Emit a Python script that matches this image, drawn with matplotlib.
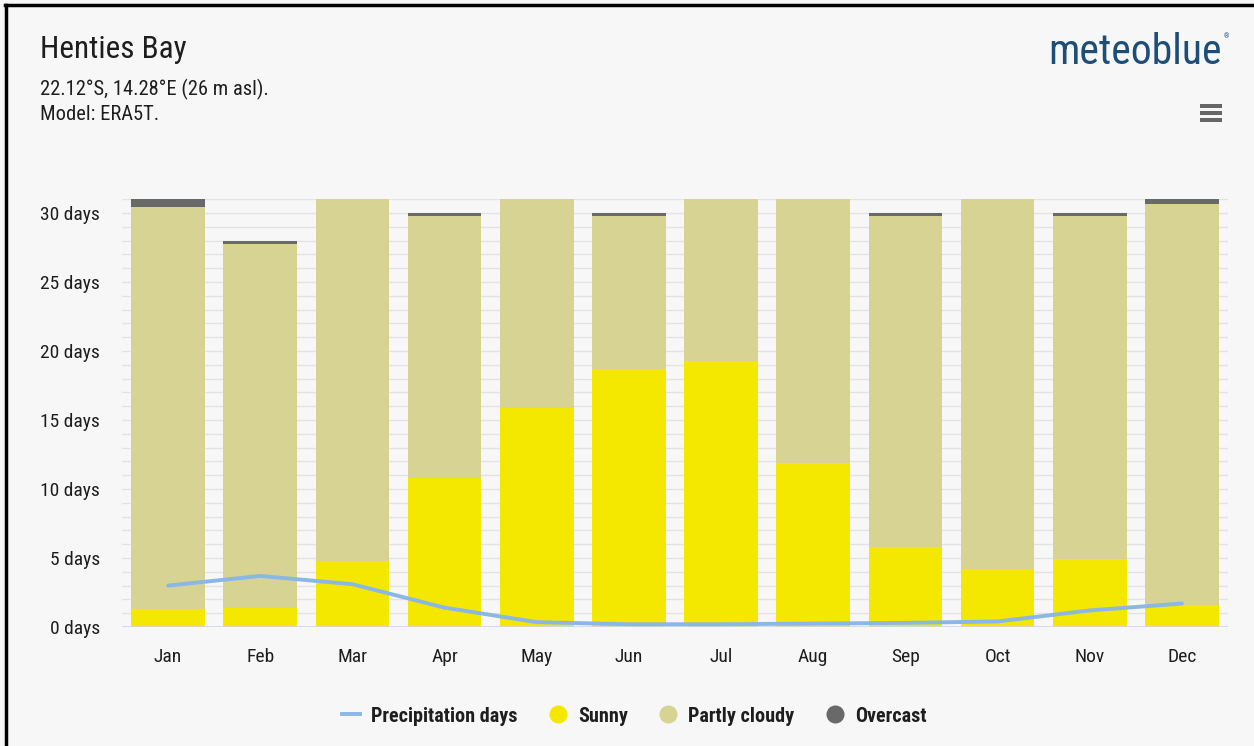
import matplotlib
matplotlib.use("Agg")
import matplotlib.pyplot as plt
from matplotlib.lines import Line2D
from matplotlib.patches import Rectangle
from matplotlib import font_manager

months = ["Jan", "Feb", "Mar", "Apr", "May", "Jun", "Jul", "Aug", "Sep", "Oct", "Nov", "Dec"]
sunny = [1.3, 1.4, 4.8, 10.8, 15.9, 18.7, 19.3, 11.9, 5.8, 4.2, 4.9, 1.6]
partly_cloudy = [29.1, 26.35, 26.2, 18.95, 15.1, 11.05, 11.7, 19.1, 23.95, 26.8, 24.85, 29.05]
overcast = [0.6, 0.25, 0.0, 0.25, 0.0, 0.25, 0.0, 0.0, 0.25, 0.0, 0.25, 0.35]
precip_days = [3.0, 3.7, 3.1, 1.4, 0.35, 0.2, 0.2, 0.25, 0.3, 0.4, 1.2, 1.7]
yticks = [0, 5, 10, 15, 20, 25, 30]
ytick_labels = [f"{v} days" for v in yticks]

# pick a condensed font if one is installed
names = {f.name for f in font_manager.fontManager.ttflist}
FAM = None
STRETCH = "normal"
for cand in ["Roboto Condensed", "Open Sans Condensed", "Liberation Sans Narrow", "Noto Sans Condensed"]:
    if cand in names:
        FAM = cand
        break
if FAM is None:
    cond = [f for f in font_manager.fontManager.ttflist
            if f.name in ("DejaVu Sans", "Noto Sans", "Open Sans", "Roboto")
            and ("ondensed" in f.fname or (isinstance(f.stretch, str) and "condensed" in f.stretch)
                 or (isinstance(f.stretch, int) and f.stretch < 500))]
    if cond:
        FAM = cond[0].name
        STRETCH = "condensed"
if FAM is None:
    FAM = "Open Sans"
plt.rcParams["font.family"] = [FAM, "DejaVu Sans"]
plt.rcParams["font.stretch"] = STRETCH

BG = "#F7F7F7"
C_SUN = "#F4E800"
C_PC = "#D6D393"
C_OV = "#696969"
C_LINE = "#8BB7E6"
TXT = "#1E1E1E"

W, H = 1254, 746
fig = plt.figure(figsize=(W / 100, H / 100), dpi=100, facecolor=BG)

def fx(px):
    return px / W

def fy(py):
    return 1 - py / H

ax_left, ax_right = 122, 1228
ax_bottom, ax_top = 627, 627 - 31 * 13.8
ax = fig.add_axes([fx(ax_left), fy(ax_bottom), fx(ax_right - ax_left), (ax_bottom - ax_top) / H])
ax.set_facecolor(BG)

x = list(range(len(months)))
bw = 0.80
ax.bar(x, sunny, width=bw, color=C_SUN, zorder=2)
ax.bar(x, partly_cloudy, width=bw, bottom=sunny, color=C_PC, zorder=2)
bottom2 = [s + p for s, p in zip(sunny, partly_cloudy)]
ax.bar(x, overcast, width=bw, bottom=bottom2, color=C_OV, zorder=2)
ax.plot(x, precip_days, color=C_LINE, lw=2.8, zorder=4, solid_capstyle="round", solid_joinstyle="round")

ax.set_xlim(-0.5, 11.5)
ax.set_ylim(0, 31)
for d in range(1, 32):
    ax.axhline(d, color="#E3E3E3", lw=1.0, zorder=1)
ax.axhline(0, color="#CCD6EB", lw=1.2, zorder=3)
for s in ax.spines.values():
    s.set_visible(False)
ax.set_yticks(yticks)
ax.set_yticklabels(ytick_labels, fontsize=14, color=TXT)
ax.set_xticks(x)
ax.set_xticklabels(months, fontsize=14, color=TXT)
ax.tick_params(axis="both", length=0)
ax.tick_params(axis="y", pad=16)
ax.tick_params(axis="x", pad=15)

# titles
fig.text(fx(40), fy(50), "Henties Bay", fontsize=22.5, color=TXT, va="center", ha="left")
fig.text(fx(40), fy(89), "22.12°S, 14.28°E (26 m asl).", fontsize=14.8, color=TXT, va="center", ha="left")
fig.text(fx(40), fy(115), "Model: ERA5T.", fontsize=14.8, color=TXT, va="center", ha="left")

# logo
fig.text(fx(1222), fy(52), "meteoblue", fontsize=30, fontweight="normal", color="#1C4E78", va="center", ha="right")
fig.text(fx(1227), fy(37), "®", fontsize=5, color="#1C4E78", va="center", ha="center")
for yy in (106, 113, 120):
    fig.patches.append(Rectangle((fx(1200), fy(yy + 2)), fx(22), 4 / H, transform=fig.transFigure,
                                 facecolor="#666666", edgecolor="none"))

# border lines (top and left)
fig.add_artist(Line2D([fx(5), 1], [fy(5), fy(5)], transform=fig.transFigure, color="black", lw=2.5))
fig.add_artist(Line2D([fx(6), fx(6)], [fy(5), 0], transform=fig.transFigure, color="black", lw=2.5))

handles = [
    Line2D([0], [0], color=C_LINE, lw=2.8),
    Line2D([0], [0], marker="o", color="none", markerfacecolor=C_SUN, markeredgecolor="none", markersize=13),
    Line2D([0], [0], marker="o", color="none", markerfacecolor=C_PC, markeredgecolor="none", markersize=13),
    Line2D([0], [0], marker="o", color="none", markerfacecolor=C_OV, markeredgecolor="none", markersize=13),
]
labels = ["Precipitation days", "Sunny", "Partly cloudy", "Overcast"]
leg = fig.legend(handles, labels, loc="center", bbox_to_anchor=(fx(634), fy(716)), ncol=4, frameon=False,
                 handlelength=0.9, handletextpad=0.55, columnspacing=1.55,
                 prop={"size": 14.5, "weight": "bold", "stretch": STRETCH, "family": [FAM, "DejaVu Sans"]})
for t in leg.get_texts():
    t.set_color(TXT)

fig.savefig("out.png", dpi=100, facecolor=BG)
